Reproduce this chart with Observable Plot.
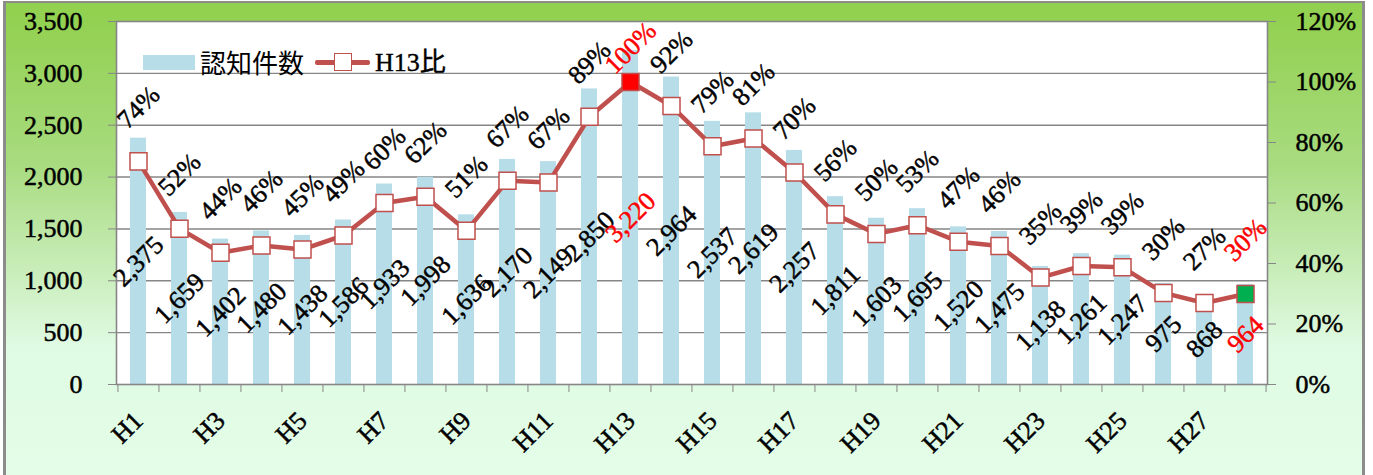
<!DOCTYPE html>
<html><head><meta charset="utf-8">
<script src="https://cdn.jsdelivr.net/npm/d3@7"></script>
<script src="https://cdn.jsdelivr.net/npm/@observablehq/plot@0.6"></script>
<style>
body{margin:0;background:#fff;}
#wrap{position:relative;width:1373px;height:475px;overflow:hidden;background:#fff;}
#bg{position:absolute;left:3px;top:1px;width:1356px;height:490px;border:3px solid #8c8c8c;border-top-width:2px;
 background:linear-gradient(to bottom,#92d050 0px,#93d152 20px,#a8db7f 160px,#d9f6d6 320px,#e0fbe3 345px,#e3fde8 475px);}
#chart{position:absolute;left:0;top:0;}
.leg{position:absolute;font-family:"Liberation Serif","Noto Sans CJK JP",serif;font-size:26px;line-height:26px;color:#000;white-space:nowrap;-webkit-text-stroke:0.4px #000;}
#chart g[aria-label="y-axis tick label"] text{stroke:#000;stroke-width:0.5px;}
</style></head>
<body>
<div id="wrap">
  <div id="bg"></div>
  <div id="chart"></div>
  <div style="position:absolute;left:143px;top:55px;width:52px;height:15px;background:#b7dde8;"></div>
  <div class="leg" style="left:200px;top:49px;font-family:'Noto Sans CJK JP',sans-serif;-webkit-text-stroke:0;">認知件数</div>
  <div style="position:absolute;left:315px;top:60px;width:55px;height:5px;background:#c0504d;border-radius:2px;"></div>
  <div style="position:absolute;left:334px;top:53px;width:16px;height:16px;background:#fff;border:1.5px solid #c0504d;"></div>
  <div class="leg" style="left:375px;top:50px;">H13比</div>
</div>
<script>
const years = ["H1","H2","H3","H4","H5","H6","H7","H8","H9","H10","H11","H12","H13","H14","H15","H16","H17","H18","H19","H20","H21","H22","H23","H24","H25","H26","H27","H28"];
const counts = [2375,1659,1402,1480,1438,1586,1933,1998,1636,2170,2149,2850,3220,2964,2537,2619,2257,1811,1603,1695,1520,1475,1138,1261,1247,975,868,964];
const baseYear = "H13";
const countTicks = [0,500,1000,1500,2000,2500,3000,3500];
const pctTicks = [0,0.2,0.4,0.6,0.8,1.0,1.2];
const markerFill = {"H13":"#ff0000","H28":"#00b050"};
const redLabelYears = ["H13","H28"];

const base = counts[years.indexOf(baseYear)];
const rows = years.map((y,i)=>({year:y, count:counts[i], ratio:counts[i]/base}));
const k = countTicks[countTicks.length-1] / pctTicks[pctTicks.length-1];

const W = 1373, H = 475, ML = 116, MR = 106, MT = 21, MB = 91;
const step = (W - ML - MR) / years.length;
const grey = "#868686";
const FONT = "'Liberation Serif','Noto Sans CJK JP',serif";
const fmt = d3.format(",");
const lblFill = d => redLabelYears.includes(d.year) ? "#ff0000" : "#000";
const SW = 0.5;

const chart = Plot.plot({
  width: W, height: H,
  marginLeft: ML, marginRight: MR, marginTop: MT, marginBottom: MB,
  style: {background:"transparent", fontFamily: FONT, fontSize:"26px", color:"#000", overflow:"visible"},
  x: {type:"band", domain: years, paddingInner:0.61, paddingOuter:0.305, align:0.5},
  y: {domain:[0, countTicks[countTicks.length-1]]},
  marks: [
    Plot.frame({fill:"white"}),
    Plot.gridY(countTicks.slice(1,-1), {stroke:grey, strokeOpacity:1, strokeWidth:1.4}),
    Plot.barY(rows, {x:"year", y:"count", fill:"#b7dde8"}),
    Plot.frame({stroke:grey, strokeWidth:1.6}),
    Plot.axisY({ticks: countTicks, tickFormat: fmt, tickSize:8, tickPadding:26, stroke:grey, fill:"#000", label:null, fontSize:26}),
    Plot.axisY({anchor:"right", ticks: pctTicks.map(p=>p*k), tickFormat: d=>Math.round(d/k*100)+"%", tickSize:8, tickPadding:20, stroke:grey, fill:"#000", label:null, fontSize:26}),
    Plot.axisX({ticks: years, tickFormat: ()=>"", tickSize:8, dx:-step/2, stroke:grey, label:null}),
    Plot.axisX({ticks: [years[years.length-1]], tickFormat: ()=>"", tickSize:8, dx:step/2, stroke:grey, label:null}),
    Plot.text(years.filter((d,i)=>i%2===0), {x:d=>d, y:()=>0, dy:32, text:d=>d, rotate:-45, textAnchor:"end", lineAnchor:"middle", fontSize:26, fill:"#000", stroke:"#000", strokeWidth:SW}),
    Plot.line(rows, {x:"year", y:d=>d.ratio*k, stroke:"#c0504d", strokeWidth:4.5, strokeLinejoin:"round"}),
    Plot.dot(rows, {x:"year", y:d=>d.ratio*k, symbol:"square", r:9.6, fill:d=>markerFill[d.year] ?? "white", stroke:"#c0504d", strokeWidth:1.5}),
    Plot.text(rows, {x:"year", y:d=>d.count/2, text:d=>fmt(d.count), rotate:-45, fill:lblFill, stroke:lblFill, strokeWidth:SW, fontSize:26, lineAnchor:"middle"}),
    Plot.text(rows.filter(d=>d.year!==baseYear), {x:"year", y:d=>d.ratio*k, dy:-54, text:d=>Math.round(d.ratio*100)+"%", rotate:-45, fill:lblFill, stroke:lblFill, strokeWidth:SW, fontSize:26, lineAnchor:"middle"}),
    Plot.text(rows.filter(d=>d.year===baseYear), {x:"year", y:d=>d.ratio*k, dy:-34, text:d=>Math.round(d.ratio*100)+"%", rotate:-45, fill:lblFill, stroke:lblFill, strokeWidth:SW, fontSize:26, lineAnchor:"middle"})
  ]
});
document.getElementById("chart").appendChild(chart);
</script>
</body></html>
